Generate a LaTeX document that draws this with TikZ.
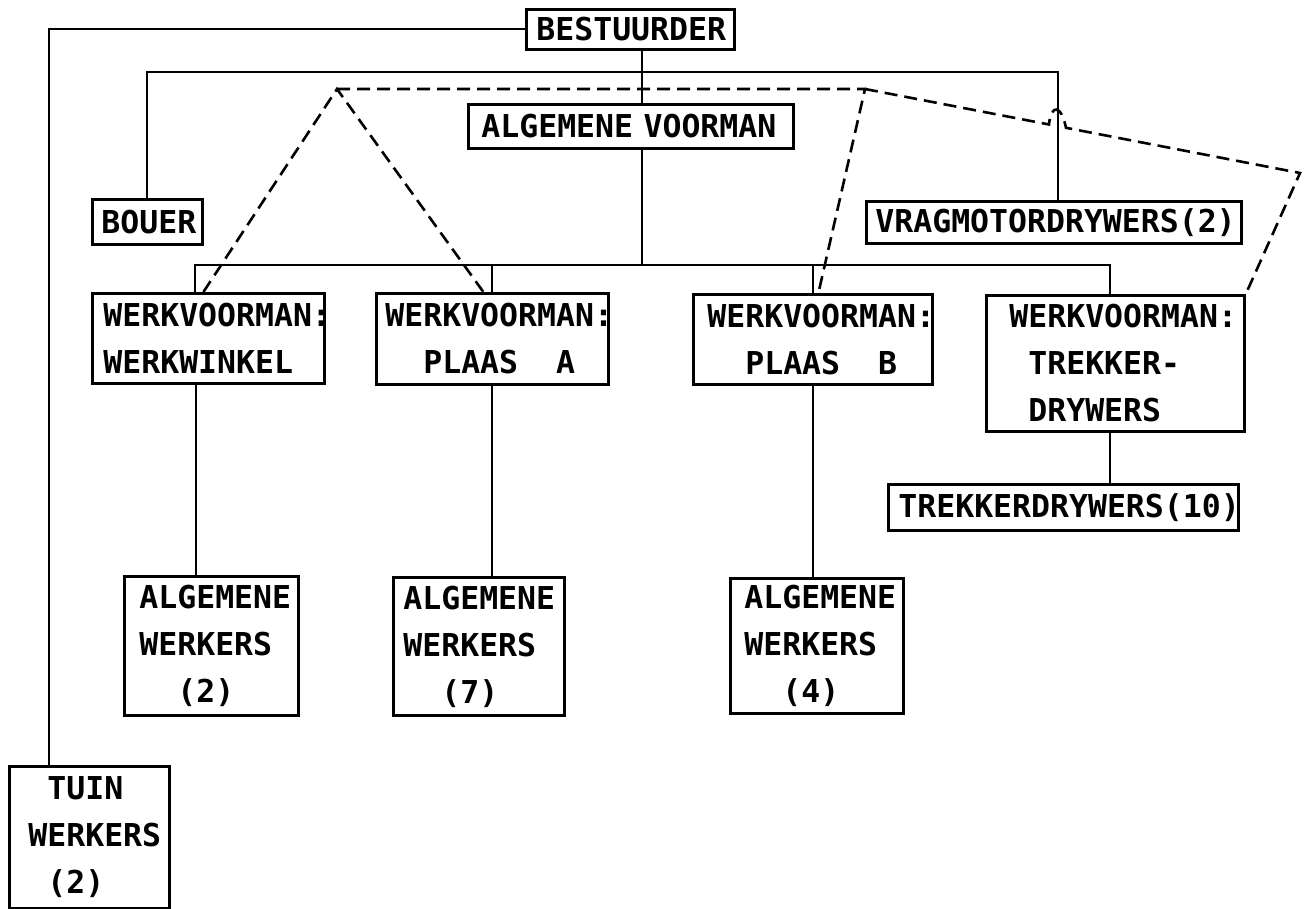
\documentclass[tikz,border=0pt]{standalone}
\usepackage{fontspec}
\newfontfamily\mono{DejaVu Sans Mono}
\setlength{\parindent}{0pt}
\hyphenpenalty=10000
\exhyphenpenalty=10000
% n character cells of blank space
\newcommand{\indsp}[1]{\hspace*{#1\fontcharwd\font`\X}}

\tikzset{
    unit/.style={draw, line width=1.4pt, anchor=north west, align=left,
        inner ysep=0pt, font={\mono\bfseries\fontsize{15.75pt}{23.5pt}\selectfont}},
    tie/.style={line width=1pt},
    link/.style={line width=1.3pt, dash pattern=on 6.5pt off 3.5pt}
}

\begin{document}
\begin{tikzpicture}[x=0.5pt, y=-0.5pt]
    \useasboundingbox (0,0) rectangle (1305,909);
    % top
    \node[unit, text width=94pt, inner xsep=5pt, minimum height=20pt] (bestuurder) at (525,8) {BESTUURDER};
    \node[unit, text width=149.5pt, inner xsep=6.5pt, minimum height=22pt] (voorman) at (467,103) {ALGEMENE VOORMAN};
    \node[unit, text width=46pt, inner xsep=4.5pt, minimum height=22.5pt] (bouer) at (91,198) {BOUER};
    \node[unit, text width=178.5pt, inner xsep=4.5pt, minimum height=21pt] (vrag) at (865,200) {VRAGMOTORDRYWERS(2)};
    % werkvoormanne
    \node[unit, text width=105pt, inner xsep=5.5pt, minimum height=45pt] (ww) at (91,292) {WERKVOORMAN:\\WERKWINKEL};
    \node[unit, text width=107pt, inner xsep=4.5pt, minimum height=45.5pt] (plaasA) at (375,292) {WERKVOORMAN:\\\indsp{2}PLAAS\indsp{2}A};
    \node[unit, text width=105.5pt, inner xsep=7pt, minimum height=45pt] (plaasB) at (692,293) {WERKVOORMAN:\\\indsp{2}PLAAS\indsp{2}B};
    \node[unit, text width=106pt, inner xsep=11.5pt, minimum height=68pt] (trekker) at (985,294) {WERKVOORMAN:\\\indsp{1}TREKKER-\\\indsp{1}DRYWERS};
    % werkers
    \node[unit, text width=165pt, inner xsep=5pt, minimum height=23pt] (trekkers10) at (887,483) {TREKKERDRYWERS(10)};
    \node[unit, text width=72pt, inner xsep=7.5pt, minimum height=69.5pt] (alg2) at (123,575) {ALGEMENE\\WERKERS\\\indsp{2}(2)};
    \node[unit, text width=75.5pt, inner xsep=5pt, minimum height=69pt] (alg7) at (392,576) {ALGEMENE\\WERKERS\\\indsp{2}(7)};
    \node[unit, text width=72.5pt, inner xsep=7pt, minimum height=67.5pt] (alg4) at (729,577) {ALGEMENE\\WERKERS\\\indsp{2}(4)};
    \node[unit, text width=61pt, inner xsep=9.5pt, minimum height=71pt] (tuin) at (8,765) {\indsp{1}TUIN\\WERKERS\\\indsp{1}(2)};

    % solid lines
    \coordinate (topbar) at (642,72);
    \coordinate (lowbar) at (642,265);
    \coordinate (wwfoot) at ([xshift=-6pt]ww.south);
    \coordinate (trekkerfoot) at ([xshift=-2.5pt]trekker.south);
    \draw[tie] (bestuurder.west) -| ([xshift=20.5pt]tuin.north west);
    \draw[tie] (bestuurder.south -| topbar) -- (voorman.north -| topbar);
    \draw[tie] (bouer.north) |- (topbar) -| ([xshift=2.25pt]vrag.north);
    \draw[tie] (voorman.south -| lowbar) -- (lowbar);
    \draw[tie] ([xshift=-6.5pt]ww.north) |- (lowbar) -| ([xshift=-2.5pt]trekker.north);
    \draw[tie] (plaasA.north) -- (plaasA.north |- lowbar);
    \draw[tie] (plaasB.north) -- (plaasB.north |- lowbar);
    \draw[tie] (wwfoot) -- (wwfoot |- alg2.north);
    \draw[tie] (plaasA.south) -- (plaasA.south |- alg7.north);
    \draw[tie] (plaasB.south) -- (plaasB.south |- alg4.north);
    \draw[tie] (trekkerfoot) -- (trekkerfoot |- trekkers10.north);

    % dashed lines
    \coordinate (apexL) at (337,89);
    \coordinate (apexM) at (865,89);
    \coordinate (apexR) at (1300,173);
    \draw[link] ([xshift=-2.5pt]ww.north) -- (apexL) -- ([xshift=-4.5pt]plaasA.north);
    \draw[link] (apexL) -- (apexM) -- ([xshift=2.75pt]plaasB.north);
    \draw[link] (apexM) -- (1049,124.5) .. controls (1051,104) and (1061,104) .. (1066,127.8)
        -- (apexR) -- (trekker.north east);
\end{tikzpicture}
\end{document}
